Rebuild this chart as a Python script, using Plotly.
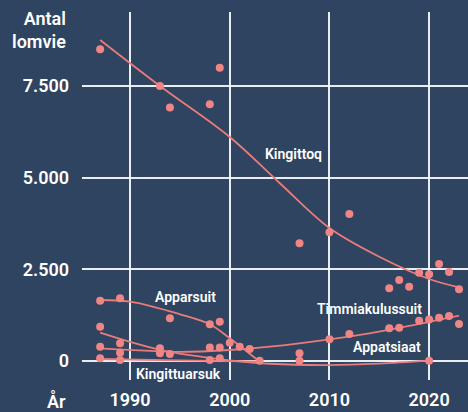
import plotly.graph_objects as go

# ---- data ----
kingittoq_years = [1987, 1993, 1994, 1998, 1999, 2007, 2010, 2012, 2016, 2017, 2018, 2019, 2020, 2021, 2022, 2023]
kingittoq_vals = [8500, 7500, 6910, 7000, 8000, 3210, 3510, 4010, 1985, 2210, 2025, 2410, 2365, 2645, 2430, 1955]
kingittoq_trend_years = [1987, 1993, 2000, 2005, 2010, 2015, 2020, 2023]
kingittoq_trend_vals = [8754, 7500, 6109, 4854, 3627, 2844, 2236, 2010]

apparsuit_years = [1987, 1989, 1994, 1998, 1999, 2000, 2001, 2002, 2003]
apparsuit_vals = [1645, 1710, 1165, 1000, 1070, 500, 390, 325, 10]
apparsuit_trend_years = [1987, 1990, 1995, 1998, 2000, 2003]
apparsuit_trend_vals = [1663, 1617, 1274, 1001, 619, -19]

appatsiaat_years = [1987, 1989, 1993, 1994, 2007, 2020]
appatsiaat_vals = [935, 485, 345, 190, 10, 10]
appatsiaat_trend_years = [1987, 1990, 1993, 1996, 2000, 2004, 2010, 2015, 2020]
appatsiaat_trend_vals = [772, 520, 305, 160, 20, -75, -110, -70, 10]

timmi_years = [1987, 1989, 1993, 1998, 1999, 2007, 2010, 2012, 2016, 2017, 2019, 2020, 2021, 2022, 2023]
timmi_vals = [390, 225, 210, 365, 365, 210, 590, 735, 890, 910, 1100, 1135, 1180, 1225, 1010]
timmi_trend_years = [1987, 1991, 1995, 2000, 2004, 2010, 2014, 2018, 2023]
timmi_trend_vals = [345, 290, 250, 300, 390, 590, 755, 955, 1235]

kingittuarsuk_years = [1987, 1989, 1998, 1999]
kingittuarsuk_vals = [75, 25, 25, 75]
kingittuarsuk_trend_years = [1987, 1995, 2003]
kingittuarsuk_trend_vals = [55, 15, -15]

x_ticks = [1990, 2000, 2010, 2020]
y_ticks = [0, 2500, 5000, 7500]

BG = "#2e4460"
PT = "#f08585"
LN = "#ea7b7b"
FONT = "Roboto"

fig = go.Figure()

series = [
    (kingittoq_trend_years, kingittoq_trend_vals, kingittoq_years, kingittoq_vals),
    (apparsuit_trend_years, apparsuit_trend_vals, apparsuit_years, apparsuit_vals),
    (appatsiaat_trend_years, appatsiaat_trend_vals, appatsiaat_years, appatsiaat_vals),
    (timmi_trend_years, timmi_trend_vals, timmi_years, timmi_vals),
    (kingittuarsuk_trend_years, kingittuarsuk_trend_vals, kingittuarsuk_years, kingittuarsuk_vals),
]
for ty, tv, py, pv in series:
    fig.add_trace(go.Scatter(x=ty, y=tv, mode="lines",
                             line=dict(color=LN, width=1.8, shape="spline", smoothing=1.0),
                             hoverinfo="skip", showlegend=False))
for ty, tv, py, pv in series:
    fig.add_trace(go.Scatter(x=py, y=pv, mode="markers",
                             marker=dict(color=PT, size=8, line=dict(width=0)),
                             showlegend=False))

labels = [
    ("Kingittoq", 2006.4, 5645),
    ("Apparsuit", 1995.6, 1745),
    ("Kingittuarsuk", 1994.9, -355),
    ("Timmiakulussuit", 2014.0, 1418),
    ("Appatsiaat", 2015.8, 382),
]
for txt, x, y in labels:
    fig.add_annotation(x=x, y=y, text=txt, showarrow=False, xref="x", yref="y",
                       font=dict(family=FONT, size=14, color="white", weight=600))

fig.add_annotation(x=-0.036, y=0.951, xref="paper", yref="paper", text="Antal<br>lomvie",
                   showarrow=False, xanchor="right", yanchor="middle", align="right",
                   font=dict(family=FONT, size=18, color="white", weight=600))
fig.add_annotation(x=-0.036, y=-0.058, xref="paper", yref="paper", text="År",
                   showarrow=False, xanchor="right", yanchor="middle", align="right",
                   font=dict(family=FONT, size=18, color="white", weight=600))

fig.update_layout(
    width=468, height=412,
    margin=dict(l=82, r=0, t=12, b=32, autoexpand=False),
    paper_bgcolor=BG, plot_bgcolor=BG,
    separators=",.",
    showlegend=False,
    xaxis=dict(range=[1985.18, 2023.9], tickvals=x_ticks, showgrid=True, automargin=False,
               gridcolor="rgba(255,255,255,0.9)", gridwidth=1.5, zeroline=False,
               showline=False, ticks="", ticklabelstandoff=7,
               tickfont=dict(family=FONT, size=18, color="white", weight=600)),
    yaxis=dict(range=[-518, 9517], tickvals=y_ticks, tickformat=",d", showgrid=True, automargin=False,
               gridcolor="rgba(255,255,255,0.9)", gridwidth=1.5, zeroline=False,
               showline=False, ticks="", ticklabelstandoff=12,
               tickfont=dict(family=FONT, size=18, color="white", weight=600)),
)

fig.write_html("out.html", config={"displayModeBar": False},
               post_script="document.body.style.margin='0px';document.body.style.background='%s';" % BG)
